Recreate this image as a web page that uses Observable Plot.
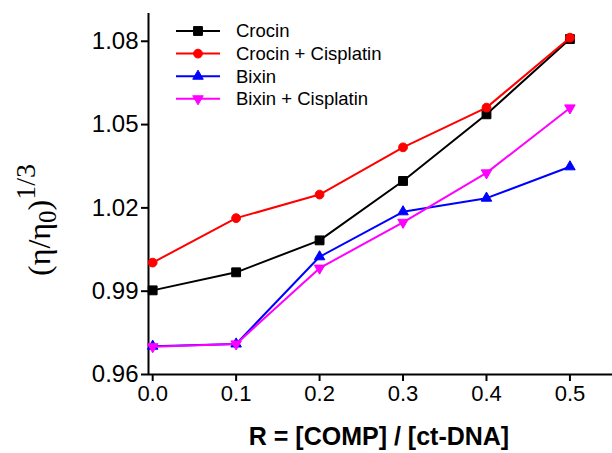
<!DOCTYPE html>
<html>
<head>
<meta charset="utf-8">
<script src="https://cdn.jsdelivr.net/npm/d3@7"></script>
<script src="https://cdn.jsdelivr.net/npm/@observablehq/plot@0.6"></script>
<style>
  html, body { margin: 0; padding: 0; background: #ffffff; }
  #chart { width: 612px; height: 453px; }
</style>
</head>
<body>
<div id="chart"></div>
<script>
// ---- Data ----
const R = [0.0, 0.1, 0.2, 0.3, 0.4, 0.5];
const crocin      = [0.9903, 0.9968, 1.0083, 1.0297, 1.0537, 1.0808];
const crocinCis   = [1.0003, 1.0163, 1.0248, 1.0418, 1.0561, 1.0813];
const bixin       = [0.9702, 0.9710, 1.0024, 1.0186, 1.0235, 1.0348];
const bixinCis    = [0.9700, 0.9710, 0.9983, 1.0148, 1.0326, 1.0560];
const seriesNames = ["Crocin", "Crocin + Cisplatin", "Bixin", "Bixin + Cisplatin"];
const xTicks = [0.0, 0.1, 0.2, 0.3, 0.4, 0.5];
const yTicks = [0.96, 0.99, 1.02, 1.05, 1.08];

const seriesValues = [crocin, crocinCis, bixin, bixinCis];
const colors = ["#000000", "#ff0000", "#0000ff", "#ff00ff"];
const symbols = ["square", "circle", "triangle", "triangle"];
const rotations = [0, 0, 0, 180];
const radii = [5, 4.4, 3.9, 3.9];

const series = seriesNames.map((name, i) => ({
  name, color: colors[i], symbol: symbols[i], rotate: rotations[i], r: radii[i],
  rows: R.map((x, j) => ({x, y: seriesValues[i][j]}))
}));

const xDomain = [-0.005, 0.551];
const yDomain = [0.96, 1.09];

const marks = [
  Plot.ruleY([yDomain[0]], {stroke: "black", strokeWidth: 2}),
  Plot.ruleX([xDomain[0]], {stroke: "black", strokeWidth: 2}),
  Plot.axisX({ticks: xTicks, tickFormat: d3.format(".1f"), tickSize: 7, tickPadding: 4,
              fontSize: 22, strokeWidth: 2, label: null}),
  Plot.axisY({ticks: yTicks, tickFormat: d3.format(".2f"), tickSize: 7, tickPadding: 3,
              fontSize: 24, strokeWidth: 2, label: null})
];
for (const s of series) {
  marks.push(Plot.line(s.rows, {x: "x", y: "y", stroke: s.color, strokeWidth: 2}));
  marks.push(Plot.dot(s.rows, {x: "x", y: "y", fill: s.color, stroke: s.color, strokeWidth: 1,
                               symbol: () => s.symbol, r: s.r, rotate: s.rotate}));
}

const svg = Plot.plot({
  width: 612,
  height: 453,
  marginLeft: 148,
  marginTop: 13,
  marginRight: 0,
  marginBottom: 79,
  style: {fontFamily: "'Liberation Sans', Arial, sans-serif", color: "black", background: "white", overflow: "visible"},
  x: {domain: xDomain},
  y: {domain: yDomain},
  marks
});

const sel = d3.select(svg);

// Y axis label (serif, with subscript and superscript)
const yl = sel.append("text")
  .attr("transform", "translate(50,220) rotate(-90)")
  .attr("text-anchor", "middle")
  .attr("font-family", "'Liberation Serif', 'Times New Roman', serif")
  .attr("font-size", 32)
  .attr("fill", "black");
yl.append("tspan").text("(η/η");
yl.append("tspan").attr("font-size", 25).attr("dy", 6).text("0");
yl.append("tspan").attr("dy", -6).text(")");
yl.append("tspan").attr("font-size", 28).attr("dy", -15).text("1/3");

// X axis label
sel.append("text")
  .attr("x", 379).attr("y", 445)
  .attr("text-anchor", "middle")
  .attr("font-family", "'Liberation Sans', Arial, sans-serif")
  .attr("font-weight", "bold")
  .attr("font-size", 25)
  .attr("fill", "black")
  .text("R = [COMP] / [ct-DNA]");

// Legend
const lg = sel.append("g").attr("transform", "translate(176,31)");
series.forEach((s, i) => {
  const g = lg.append("g").attr("transform", `translate(0,${i * 22.6})`);
  g.append("line").attr("x1", 0).attr("x2", 44).attr("y1", 0).attr("y2", 0)
    .attr("stroke", s.color).attr("stroke-width", 2);
  const symMap = {square: d3.symbolSquare, circle: d3.symbolCircle, triangle: d3.symbolTriangle};
  g.append("path")
    .attr("d", d3.symbol(symMap[s.symbol], Math.PI * s.r * s.r)())
    .attr("transform", `translate(22,0) rotate(${s.rotate})`)
    .attr("fill", s.color).attr("stroke", s.color);
  g.append("text").attr("x", 60).attr("y", 0).attr("dy", "0.35em")
    .attr("text-anchor", "start")
    .attr("font-size", 18.5).attr("fill", "black").text(s.name);
});

document.getElementById("chart").appendChild(svg);
</script>
</body>
</html>
